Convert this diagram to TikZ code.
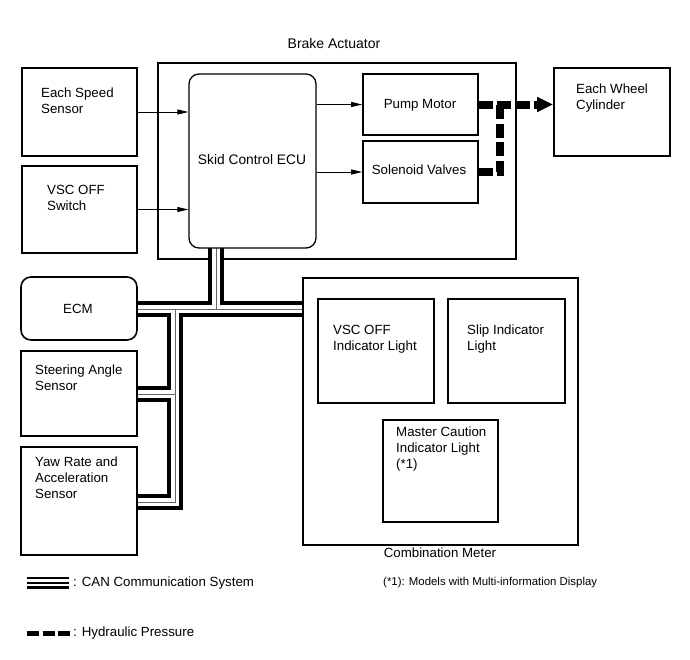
\documentclass[tikz,border=0pt]{standalone}
\usepackage{fontspec}
\setmainfont{Liberation Sans}
\usetikzlibrary{arrows.meta}
\begin{document}
\begin{tikzpicture}[x=1pt,y=-1pt,
  font=\fontsize{13.3}{16}\selectfont,
  box/.style={draw, line width=1.6pt, inner sep=0, fill=none},
  rbox/.style={box, rounded corners=10pt},
  txt/.style={anchor=west, align=left, inner sep=0},
  ctxt/.style={anchor=center, align=center, inner sep=0},
  busblack/.style={draw=black, line width=16pt},
  buswhite/.style={draw=white, line width=8pt},
  busthin/.style={draw=black!60, line width=0.8pt},
  sig/.style={line width=0.9pt, -{Triangle[length=11pt,width=5pt]}},
  hyd/.style={line width=8pt, dash pattern=on 14pt off 4.5pt}
]
\useasboundingbox (0,0) rectangle (690,659);

% Brake actuator housing (drawn before the bus)
\node[box, line width=1.3pt, minimum width=358pt, minimum height=196pt] (act) at (337,161) {};
\node[ctxt, font=\fontsize{14}{16}\selectfont] (actT) at (334,43) {Brake Actuator};

% bus junction coordinates
\coordinate (j1) at (216,309);
\coordinate (j2) at (175,309);
\coordinate (j3) at (175,394);
\coordinate (j4) at (175,502);
\coordinate (ecuB) at (216,248);

\foreach \sty in {busblack,buswhite,busthin}{
  \draw[\sty] (ecuB) -- (j1);
  \draw[\sty] (137,309) coordinate (ecmE) -- (303,309) coordinate (meterW);
  \draw[\sty] (j2) -- (j4) -- (137,502) coordinate (yawE);
  \draw[\sty] (j3) -- (137,394) coordinate (steerE);
}

% boxes
\node[box, minimum width=115pt, minimum height=88pt] (speed) at (79.5,112) {};
\node[txt] (speedT) at (41,101) {Each Speed\\Sensor};

\node[box, minimum width=115pt, minimum height=87pt] (vscsw) at (79.5,209.5) {};
\node[txt] (vscswT) at (47,197.5) {VSC OFF\\Switch};

\node[rbox, line width=1.3pt, minimum width=127pt, minimum height=174pt] (ecu) at (252.5,161) {};
\node[ctxt, font=\fontsize{13.8}{16}\selectfont] (ecuT) at (252,160) {Skid Control ECU};

\node[box, minimum width=115pt, minimum height=61pt] (pump) at (420.5,104.5) {};
\node[ctxt] (pumpT) at (420,105) {Pump Motor};

\node[box, minimum width=115pt, minimum height=62pt] (sol) at (420.5,172) {};
\node[ctxt] (solT) at (419,170) {Solenoid Valves};

\node[box, minimum width=116pt, minimum height=88pt] (wheel) at (612,112) {};
\node[txt] (wheelT) at (576,98.5) {Each Wheel\\Cylinder};

\node[rbox, minimum width=116pt, minimum height=63pt] (ecm) at (79,308.5) {};
\node[ctxt] (ecmT) at (78,309) {ECM};

\node[box, minimum width=116pt, minimum height=85pt] (steer) at (79,393.5) {};
\node[txt] (steerT) at (35,378) {Steering Angle\\Sensor};

\node[box, minimum width=116pt, minimum height=108pt] (yaw) at (79,501) {};
\node[txt] (yawT) at (35,478) {Yaw Rate and\\Acceleration\\Sensor};

\node[box, minimum width=275pt, minimum height=267pt] (meter) at (440.5,411.5) {};
\node[ctxt] (meterT) at (440,553) {Combination Meter};

\node[box, minimum width=116pt, minimum height=104pt] (vscl) at (376,351) {};
\node[txt] (vsclT) at (333,339.5) {VSC OFF\\Indicator Light};

\node[box, minimum width=117pt, minimum height=104pt] (slip) at (506.5,351) {};
\node[txt] (slipT) at (467,339.5) {Slip Indicator\\Light};

\node[box, minimum width=115pt, minimum height=102pt] (master) at (440.5,471) {};
\node[txt] (masterT) at (396,449.5) {Master Caution\\Indicator Light\\(*1)};

% signal arrows
\draw[sig] (speed.east) -- (speed.east -| ecu.west);
\draw[sig] (vscsw.east) -- (vscsw.east -| ecu.west);
\draw[sig] (pump.west -| ecu.east) -- (pump.west);
\draw[sig] (sol.west -| ecu.east) -- (sol.west);

% hydraulic
\coordinate (hv) at (500,105);
\draw[hyd] (sol.east) -- (sol.east -| hv) -- (hv);
\draw[hyd, -{Triangle[length=16pt,width=14pt]}] (pump.east) -- (pump.east -| wheel.west);

% legend
\draw[line width=1.5pt] (27,578) -- (69,578);
\draw[line width=2pt] (27,582.5) -- (69,582.5);
\draw[line width=3pt] (27,587) -- (69,587);
\node[txt] (canT) at (73,583) {: CAN Communication System};
\node[txt, font=\fontsize{11.4}{14}\selectfont] (noteT) at (383,583) {(*1): Models with Multi-information Display};
\draw[line width=5pt, dash pattern=on 12pt off 3.5pt] (27,633) -- (70,633);
\node[txt] (hydT) at (73,633) {: Hydraulic Pressure};
\end{tikzpicture}
\end{document}
